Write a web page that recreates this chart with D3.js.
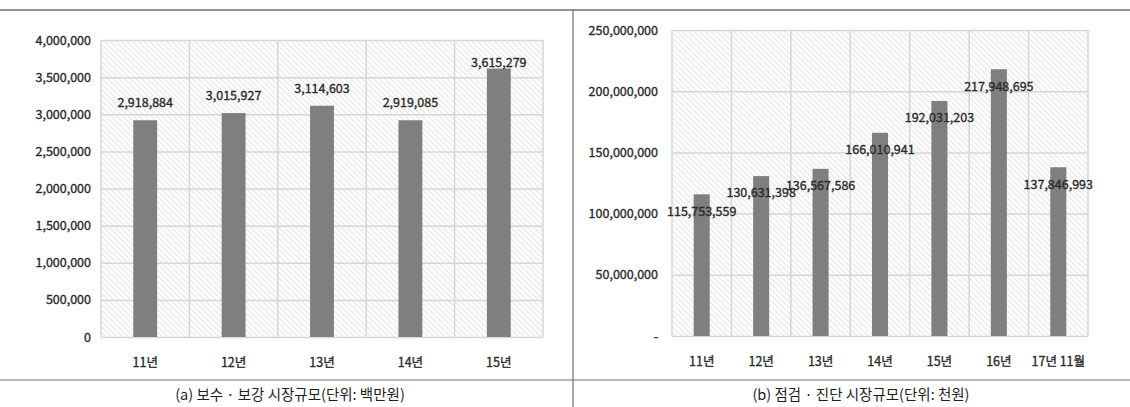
<!DOCTYPE html>
<html>
<head>
<meta charset="utf-8">
<script src="https://cdn.jsdelivr.net/npm/d3@7"></script>
<style>
  html, body { margin: 0; padding: 0; background: #fff; }
  svg { display: block; }
  text { font-family: "Noto Sans CJK KR", "Noto Sans", sans-serif; fill: #2a2a2a; stroke: #2a2a2a; stroke-width: 0.35px; }
  text.caption { stroke: none; fill: #1e1e1e; }
</style>
</head>
<body>
<svg id="chart" width="1130" height="407"></svg>
<script>
// (a) 보수·보강 시장규모 (단위: 백만원)
const repairCategories = ["11년", "12년", "13년", "14년", "15년"];
const repairValues = [2918884, 3015927, 3114603, 2919085, 3615279];
const repairTicks = [0, 500000, 1000000, 1500000, 2000000, 2500000, 3000000, 3500000, 4000000];

// (b) 점검·진단 시장규모 (단위: 천원)
const inspectCategories = ["11년", "12년", "13년", "14년", "15년", "16년", "17년 11월"];
const inspectValues = [115753559, 130631398, 136567586, 166010941, 192031203, 217948695, 137846993];
const inspectTicks = [0, 50000000, 100000000, 150000000, 200000000, 250000000];

const captions = ["(a) 보수 · 보강 시장규모(단위: 백만원)", "(b) 점검 · 진단 시장규모(단위: 천원)"];

const svg = d3.select("#chart");
const fmt = d3.format(",");

// diagonal hatch used as the plot-area fill
const defs = svg.append("defs");
const pat = defs.append("pattern")
  .attr("id", "hatch")
  .attr("patternUnits", "userSpaceOnUse")
  .attr("width", 4).attr("height", 4)
  .attr("patternTransform", "rotate(-45)");
pat.append("rect").attr("width", 4).attr("height", 4).attr("fill", "#fdfdfd");
pat.append("line").attr("x1", 0).attr("y1", 0).attr("x2", 0).attr("y2", 4)
  .attr("stroke", "#dadada").attr("stroke-width", 1.3);

// frame rules
svg.append("line").attr("x1", 0).attr("x2", 1130).attr("y1", 10).attr("y2", 10)
  .attr("stroke", "#6e6e6e").attr("stroke-width", 1.5);
svg.append("line").attr("x1", 0).attr("x2", 1130).attr("y1", 380).attr("y2", 380)
  .attr("stroke", "#6e6e6e").attr("stroke-width", 1.2);
svg.append("line").attr("x1", 573).attr("x2", 573).attr("y1", 10).attr("y2", 407)
  .attr("stroke", "#6e6e6e").attr("stroke-width", 1.2);

function drawPanel(cfg) {
  const g = svg.append("g");
  const x = d3.scaleBand().domain(cfg.categories).range([cfg.left, cfg.right]).padding(0);
  const y = d3.scaleLinear().domain([0, cfg.max]).range([cfg.bottom, cfg.top]);

  // plot background
  g.append("rect")
    .attr("x", cfg.left).attr("y", cfg.top)
    .attr("width", cfg.right - cfg.left).attr("height", cfg.bottom - cfg.top)
    .attr("fill", "url(#hatch)");

  // horizontal gridlines + y labels
  const yAxis = d3.axisLeft(y).tickValues(cfg.ticks).tickSize(-(cfg.right - cfg.left))
    .tickFormat(cfg.tickFormat);
  const ya = g.append("g").attr("transform", `translate(${cfg.left},0)`).call(yAxis);
  ya.select(".domain").remove();
  ya.selectAll("line").attr("stroke", "#d6d6d6").attr("stroke-width", 1.5);
  ya.selectAll("text").attr("x", -cfg.labelGap).attr("font-size", 12.5)
    .attr("fill", "#2a2a2a").style("font-family", '"Noto Sans CJK KR", sans-serif');

  // vertical gridlines at band edges
  const edges = cfg.categories.map(c => x(c)).concat([cfg.right]);
  g.selectAll(".vgrid").data(edges).join("line")
    .attr("x1", d => d).attr("x2", d => d)
    .attr("y1", cfg.top).attr("y2", cfg.bottom)
    .attr("stroke", "#d6d6d6").attr("stroke-width", 1.5);

  // x labels
  const xAxis = d3.axisBottom(x).tickSize(0).tickPadding(0);
  const xa = g.append("g").attr("transform", `translate(0,${cfg.bottom})`).call(xAxis);
  xa.select(".domain").remove();
  xa.selectAll("text").attr("y", cfg.xLabelOffset).attr("dy", "0.35em")
    .attr("font-size", 12.5).attr("fill", "#2a2a2a")
    .style("font-family", '"Noto Sans CJK KR", sans-serif');

  // bars
  const barW = x.bandwidth() * cfg.barRatio;
  g.selectAll(".bar").data(cfg.values).join("rect")
    .attr("x", (d, i) => x(cfg.categories[i]) + x.bandwidth() / 2 - barW / 2)
    .attr("y", d => y(d))
    .attr("width", barW)
    .attr("height", d => y(0) - y(d))
    .attr("fill", "#7f7f80");

  // value labels
  g.selectAll(".val").data(cfg.values).join("text")
    .attr("x", (d, i) => x(cfg.categories[i]) + x.bandwidth() / 2)
    .attr("y", d => cfg.labelY(y(d)))
    .attr("dy", "0.35em")
    .attr("text-anchor", "middle")
    .attr("font-size", 12.5)
    .text(d => fmt(d));

  // caption
  svg.append("text")
    .attr("class", "caption")
    .attr("x", cfg.captionX).attr("y", 395).attr("dy", "0.35em")
    .attr("text-anchor", "middle")
    .attr("font-size", 14.5)
    .text(cfg.caption);
}

drawPanel({
  categories: repairCategories,
  values: repairValues,
  ticks: repairTicks,
  max: 4000000,
  left: 101, right: 543, top: 40, bottom: 337,
  labelGap: 10,
  tickFormat: d => fmt(d),
  barRatio: 0.27,
  xLabelOffset: 26,
  labelY: top => Math.max(top - 17.5, 63),
  captionX: 290,
  caption: captions[0]
});

drawPanel({
  categories: inspectCategories,
  values: inspectValues,
  ticks: inspectTicks,
  max: 250000000,
  left: 672, right: 1088, top: 30, bottom: 336,
  labelGap: 14,
  tickFormat: d => d === 0 ? "-" : fmt(d),
  barRatio: 0.27,
  xLabelOffset: 26,
  labelY: top => top + 17,
  captionX: 861,
  caption: captions[1]
});
</script>
</body>
</html>
